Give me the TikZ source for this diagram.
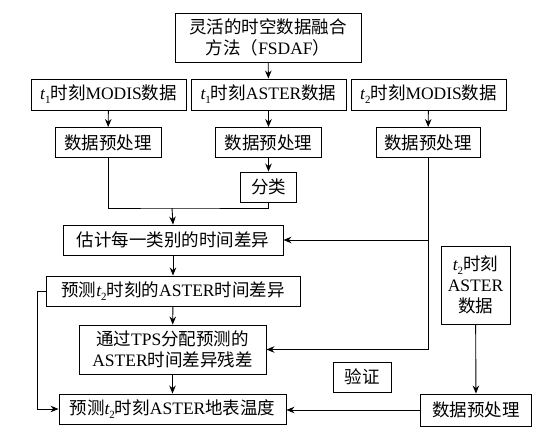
\documentclass[tikz,border=0pt]{standalone}
\usepackage{fontspec}
\setmainfont{Liberation Serif}
\newfontfamily\cjk{Noto Sans CJK SC}
\usetikzlibrary{arrows.meta}
\newcommand\zh[1]{{\cjk #1}}
\newcommand\tsub[1]{\textit{t}\kern-0.3pt\raisebox{-0.5ex}{\fontsize{11}{11}\selectfont #1}}
\begin{document}
\begin{tikzpicture}[x=1pt,y=-1pt, font=\fontsize{17.5}{21}\selectfont,
  box/.style={draw, line width=0.9pt, inner sep=0pt, align=center},
  arr/.style={line width=0.9pt, -{Stealth[length=8pt,width=6.5pt]}},
  ln/.style={line width=0.9pt}]
\useasboundingbox (0,0) rectangle (552,436);
% nodes
\node[box, minimum width=186pt, minimum height=49pt] (top) at (268,37.5) {\zh{灵活的时空数据融合}\\\zh{方法（}FSDAF\zh{）}};
\node[box, minimum width=155pt, minimum height=31pt] (r2a) at (108.5,94.5) {\tsub{1}\zh{时刻}MODIS\zh{数据}};
\node[box, minimum width=155pt, minimum height=31pt] (r2b) at (268.5,94.5) {\tsub{1}\zh{时刻}ASTER\zh{数据}};
\node[box, minimum width=155pt, minimum height=31pt] (r2c) at (428.5,94.5) {\tsub{2}\zh{时刻}MODIS\zh{数据}};
\node[box, minimum width=106pt, minimum height=30pt] (r3a) at (108,142.5) {\zh{数据预处理}};
\node[box, minimum width=106pt, minimum height=30pt] (r3b) at (268.5,142.5) {\zh{数据预处理}};
\node[box, minimum width=104pt, minimum height=30pt] (r3c) at (428,142.5) {\zh{数据预处理}};
\node[box, minimum width=56pt, minimum height=30pt] (fl) at (268.5,187) {\zh{分类}};
\node[box, minimum width=220pt, minimum height=30pt] (gj) at (173,240) {\zh{估计每一类别的时间差异}};
\node[box, minimum width=254pt, minimum height=30pt] (yc) at (173,291) {\zh{预测}\tsub{2}\zh{时刻的}ASTER\zh{时间差异}};
\node[box, minimum width=187pt, minimum height=49pt] (tps) at (172.5,349.5) {\zh{通过}TPS\zh{分配预测的}\\ASTER\zh{时间差异残差}};
\node[box, minimum width=227pt, minimum height=30pt] (db) at (172.5,409) {\zh{预测}\tsub{2}\zh{时刻}ASTER\zh{地表温度}};
\node[box, minimum width=58pt, minimum height=30pt] (yz) at (362,377) {\zh{验证}};
\node[box, minimum width=69pt, minimum height=78pt] (ta) at (475.5,285) {\tsub{2}\zh{时刻}\\ASTER\\\zh{数据}};
\node[box, minimum width=111pt, minimum height=32pt] (r4) at (476,410) {\zh{数据预处理}};
% junctions
\coordinate (m) at (172,208);
\coordinate (j1) at (r3c.south |- gj.east);
% connectors
\draw[arr] (top) -- (r2b);
\draw[arr] (r2a) -- (r3a);
\draw[arr] (r2b) -- (r3b);
\draw[arr] (r2c) -- (r3c);
\draw[arr] (r3b) -- (fl);
\draw[ln] (r3a.south) |- (m) -| (fl.south);
\draw[arr] (m) -- (gj.north);
\draw[arr] (r3c.south) |- (tps.east);
\draw[arr] (j1) -- (gj.east);
\draw[arr] (gj) -- (yc);
\draw[arr] (yc) -- (tps);
\draw[arr] (tps) -- (db);
\draw[arr] (yc.west) -- ++(-8,0) |- (db.west);
\draw[arr] (ta) -- (r4);
\draw[arr] (r4.west) -- (db.east |- r4.west);
\end{tikzpicture}
\end{document}
